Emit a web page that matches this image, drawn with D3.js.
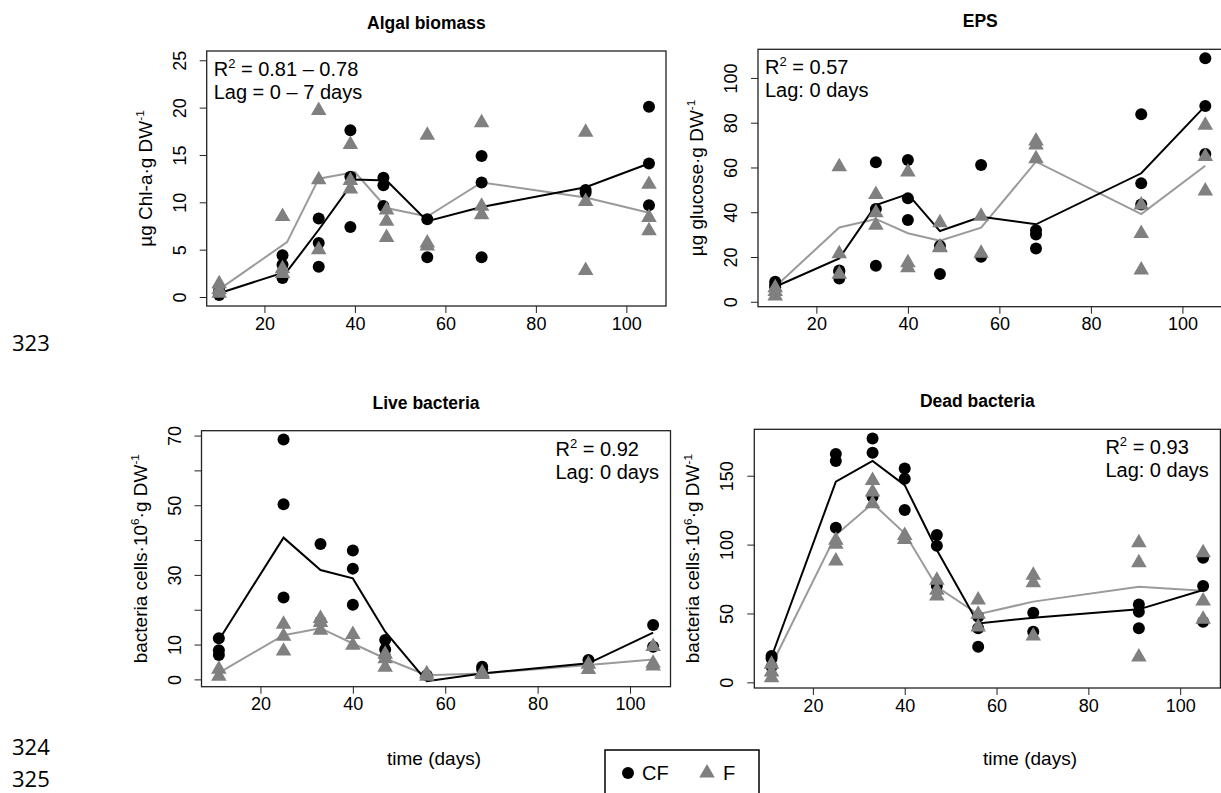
<!DOCTYPE html>
<html lang="en">
<head>
<meta charset="utf-8">
<title>Biofilm time series CF vs F</title>
<script src="https://d3js.org/d3.v7.min.js"></script>
<style>
  body { margin: 0; background: #fff; }
  svg text { font-family: "Liberation Sans", Arial, sans-serif; fill: #000; }
</style>
</head>
<body>
<div id="chart"></div>
<script>
// sampling days (x) for points and for the fitted lines
var days = [11, 25, 33, 40, 47, 56, 68, 91, 105];
var algalCFDays = [10, 24, 32, 39, 46.3, 56, 68, 91, 105];
var algalFDays = [10, 24, 32, 39, 47, 56, 68, 91, 105];
var algalLineDays = [10, 25, 32, 40, 47, 56, 68, 91, 105];

var xTicks = [20, 40, 60, 80, 100];

// Algal biomass, µg Chl-a per g DW (replicates per day)
var algalCF = [[0.2, 0.4, 0.7], [4.4, 3.4, 2.0], [8.3, 5.7, 3.2], [17.6, 12.7, 7.4], [12.6, 11.8, 9.6],
               [8.2, 4.2], [14.9, 12.1, 4.2], [11.3, 11.0], [20.1, 14.1, 9.7]];
var algalF = [[1.5, 0.9, 0.5], [8.6, 3.1, 2.6], [19.8, 12.5, 5.1], [16.2, 12.4, 11.5], [9.3, 8.1, 6.4],
              [17.2, 5.8, 5.5], [18.5, 9.7, 8.8], [17.5, 10.2, 2.9], [12.0, 8.5, 7.1]];
var algalLineCF = [0.4, 2.7, 7.1, 12.4, 12.3, 8.0, 9.5, 11.6, 14.1];
var algalLineF = [0.8, 5.8, 12.5, 13.2, 9.4, 8.5, 12.1, 10.5, 8.9];

// EPS, µg glucose per g DW
var epsCF = [[8.9, 7.5, 6.5], [14.0, 13.4, 10.4], [62.3, 41.4, 16.1], [63.3, 46.2, 36.5], [24.9, 12.4],
             [61.1, 20.1], [32.0, 30.1, 23.8], [83.8, 52.9, 43.5], [108.8, 87.5, 66.0]];
var epsF = [[6.7, 5.0, 3.0], [60.8, 21.9, 12.7], [48.4, 40.2, 34.6], [58.4, 17.9, 15.6], [35.8, 24.9, 24.6],
            [38.7, 22.1], [72.3, 70.5, 64.4], [43.7, 31.0, 14.6], [79.3, 65.3, 49.9]];
var epsLineCF = [6.7, 19.4, 43.2, 48.1, 31.6, 38.0, 34.6, 57.4, 87.5];
var epsLineF = [6.7, 33.2, 37.0, 30.6, 27.3, 33.1, 62.6, 39.2, 60.8];

// Live bacteria, 10^6 cells per g DW
var liveCF = [[11.8, 8.4, 7.0], [68.9, 50.3, 23.5], [38.9, 16.6], [37.0, 31.8, 21.4], [11.3, 8.6, 6.5],
              [1.2], [3.6, 2.9], [5.6], [15.6, 9.4]];
var liveF = [[3.2, 1.2], [16.1, 12.7, 8.4], [17.8, 16.6, 14.4], [13.2, 10.1], [7.5, 6.2, 3.8],
             [1.9, 1.2], [2.2, 1.7], [4.6, 3.1], [9.7, 4.9, 4.1]];
var liveLineCF = [11.3, 40.7, 31.4, 29.0, 13.7, -0.5, 1.7, 4.6, 13.4];
var liveLineF = [1.9, 12.7, 14.7, 10.3, 6.0, 1.2, 1.7, 4.1, 5.7];

// Dead bacteria, 10^6 cells per g DW
var deadCF = [[19.1, 17.4, 11.4], [165.7, 160.7, 112.3], [177.1, 166.7, 134.8], [155.3, 147.8, 125.1],
              [106.9, 99.2, 69.9], [47.7, 39.2, 25.9], [50.6, 36.8], [56.6, 51.3, 39.2], [90.5, 69.9, 44.0]];
var deadF = [[13.8, 8.2, 4.1], [103.8, 100.9, 88.8], [147.3, 138.9, 130.4], [107.4, 104.5],
             [74.8, 67.5, 63.4], [60.5, 50.1, 40.9], [78.4, 73.1, 34.4], [102.1, 87.6, 19.1], [94.8, 59.8, 46.5]];
var deadLineCF = [18.6, 145.7, 160.7, 143.2, 96.1, 42.8, 46.9, 53.0, 67.0];
var deadLineF = [12.6, 106.9, 129.9, 108.2, 69.4, 49.4, 58.6, 69.4, 66.5];

var black = "#000", gray = "#808080", grayLine = "#9a9a9a";

var svg = d3.select("#chart")
    .append("svg")
        .attr("width", 1221)
        .attr("height", 793);

svg.append("rect").attr("width", 1221).attr("height", 793).attr("fill", "#fff");

// layout of the four plot boxes [left, top, right, bottom]
var panels = [
    {title: "Algal biomass", box: [206.7, 51, 666, 306], yDomain: [-0.95, 25.98],
     yTicks: [0, 5, 10, 15, 20, 25], yLabels: [0, 5, 10, 15, 20, 25],
     ylab: [["µg Chl-a·g DW", 0], ["-1", 1]],
     note: ["0.81 – 0.78", "Lag = 0 – 7 days"], noteLeft: true,
     cfDays: algalCFDays, fDays: algalFDays, lineDays: algalLineDays,
     cf: algalCF, f: algalF, lineCF: algalLineCF, lineF: algalLineF},
    {title: "EPS", box: [758, 49.3, 1222.5, 306.7], yDomain: [-2.2, 112.8],
     yTicks: [0, 20, 40, 60, 80, 100], yLabels: [0, 20, 40, 60, 80, 100],
     ylab: [["µg glucose·g DW", 0], ["-1", 1]],
     note: ["0.57", "Lag: 0 days"], noteLeft: true,
     cfDays: days, fDays: days, lineDays: days,
     cf: epsCF, f: epsF, lineCF: epsLineCF, lineF: epsLineF},
    {title: "Live bacteria", box: [201.5, 430.7, 670.5, 686.7], yDomain: [-2.1, 71.4],
     yTicks: [0, 10, 20, 30, 40, 50, 60, 70], yLabels: [0, 10, 30, 50, 70],
     ylab: [["bacteria cells·10", 0], ["6", 1], ["·g DW", 0], ["-1", 1]],
     note: ["0.92", "Lag: 0 days"], noteLeft: false,
     cfDays: days, fDays: days, lineDays: days,
     cf: liveCF, f: liveF, lineCF: liveLineCF, lineF: liveLineF},
    {title: "Dead bacteria", box: [754.3, 429.3, 1220.4, 688], yDomain: [-4.1, 183.7],
     yTicks: [0, 50, 100, 150], yLabels: [0, 50, 100, 150],
     ylab: [["bacteria cells·10", 0], ["6", 1], ["·g DW", 0], ["-1", 1]],
     note: ["0.93", "Lag: 0 days"], noteLeft: false,
     cfDays: days, fDays: days, lineDays: days,
     cf: deadCF, f: deadF, lineCF: deadLineCF, lineF: deadLineF}
];

// write text pieces, raising the superscript ones
function addPieces(t, pieces, size) {
    pieces.forEach(function(p, i) {
        var ts = t.append("tspan").text(p[0]);
        if (p[1]) {
            ts.attr("font-size", size * 0.62).attr("dy", -size * 0.4);
        } else if (i > 0 && pieces[i - 1][1]) {
            ts.attr("dy", size * 0.4);
        }
    });
}

var triangle = d3.symbol().type(d3.symbolTriangle).size(105);

panels.forEach(function(p) {
    var left = p.box[0], top = p.box[1], right = p.box[2], bottom = p.box[3];

    var x = d3.scaleLinear().domain([7.24, 108.76]).range([left, right]);
    var y = d3.scaleLinear().domain(p.yDomain).range([bottom, top]);

    var g = svg.append("g");

    // title
    g.append("text")
        .attr("x", (left + right) / 2 - 10)
        .attr("y", top - 22)
        .attr("text-anchor", "middle")
        .attr("font-weight", "bold")
        .attr("font-size", 17.5)
        .text(p.title);

    // x axis
    var gx = g.append("g")
        .attr("transform", "translate(0," + bottom + ")")
        .call(d3.axisBottom(x).tickValues(xTicks).tickSize(7).tickPadding(4));
    gx.select(".domain").remove();
    gx.selectAll("text").attr("font-size", 18).attr("font-family", null);
    gx.selectAll("line").attr("stroke", "#222");

    // y axis, labels parallel to the axis
    var gy = g.append("g")
        .attr("transform", "translate(" + left + ",0)")
        .call(d3.axisLeft(y).tickValues(p.yTicks).tickSize(7)
            .tickFormat(function(d) { return p.yLabels.indexOf(d) >= 0 ? d : ""; }));
    gy.select(".domain").remove();
    gy.selectAll("line").attr("stroke", "#222");
    gy.selectAll("text")
        .attr("font-size", 18).attr("font-family", null)
        .attr("x", null).attr("dy", null)
        .attr("text-anchor", "middle")
        .attr("transform", "translate(-21,0) rotate(-90)");

    // y axis title
    var yt = g.append("text")
        .attr("text-anchor", "middle")
        .attr("font-size", 19)
        .attr("transform", "translate(" + (left - 55) + "," + ((top + bottom) / 2) + ") rotate(-90)");
    addPieces(yt, p.ylab, 19);

    // plot box
    g.append("rect")
        .attr("x", left).attr("y", top)
        .attr("width", right - left).attr("height", bottom - top)
        .attr("fill", "none").attr("stroke", "#222").attr("stroke-width", 1.3);

    // fitted lines
    var line = d3.line()
        .x(function(d) { return x(d[0]); })
        .y(function(d) { return y(d[1]); });
    g.append("path")
        .datum(d3.zip(p.lineDays, p.lineF))
        .attr("fill", "none").attr("stroke", grayLine).attr("stroke-width", 2)
        .attr("d", line);
    g.append("path")
        .datum(d3.zip(p.lineDays, p.lineCF))
        .attr("fill", "none").attr("stroke", black).attr("stroke-width", 2)
        .attr("d", line);

    // replicate points
    var cfPts = [], fPts = [];
    p.cfDays.forEach(function(d, i) {
        p.cf[i].forEach(function(v) { cfPts.push([d, v]); });
    });
    p.fDays.forEach(function(d, i) {
        p.f[i].forEach(function(v) { fPts.push([d, v]); });
    });
    g.append("g").selectAll("circle")
        .data(cfPts)
        .join("circle")
            .attr("cx", function(d) { return x(d[0]); })
            .attr("cy", function(d) { return y(d[1]); })
            .attr("r", 6)
            .attr("fill", black);
    g.append("g").selectAll("path")
        .data(fPts)
        .join("path")
            .attr("d", triangle)
            .attr("transform", function(d) { return "translate(" + x(d[0]) + "," + (y(d[1]) + 1) + ")"; })
            .attr("fill", gray);

    // R² and lag note
    var nx = p.noteLeft ? left + 7 : right - 115;
    var n1 = g.append("text").attr("x", nx).attr("y", top + 25).attr("font-size", 20);
    n1.append("tspan").text("R");
    n1.append("tspan").text("2").attr("font-size", 13).attr("dy", -8);
    n1.append("tspan").text(" = " + p.note[0]).attr("dy", 8);
    g.append("text").attr("x", nx).attr("y", top + 48).attr("font-size", 20).text(p.note[1]);
});

// shared x labels
svg.append("text").attr("x", 434).attr("y", 765).attr("text-anchor", "middle")
    .attr("font-size", 19).text("time (days)");
svg.append("text").attr("x", 1030).attr("y", 765).attr("text-anchor", "middle")
    .attr("font-size", 19).text("time (days)");

// legend
var lg = svg.append("g");
lg.append("rect").attr("x", 605).attr("y", 750).attr("width", 154).attr("height", 60)
    .attr("fill", "#fff").attr("stroke", "#000").attr("stroke-width", 1.5);
lg.append("circle").attr("cx", 628).attr("cy", 773).attr("r", 6).attr("fill", black);
lg.append("text").attr("x", 642).attr("y", 780).attr("font-size", 20).text("CF");
lg.append("path").attr("d", triangle).attr("transform", "translate(707,773)").attr("fill", gray);
lg.append("text").attr("x", 723).attr("y", 780).attr("font-size", 20).text("F");

// manuscript line numbers
var lineNos = [["323", 351], ["324", 755], ["325", 787]];
svg.selectAll(".lineno")
    .data(lineNos)
    .join("text")
        .attr("class", "lineno")
        .attr("x", 12).attr("y", function(d) { return d[1]; })
        .attr("font-size", 22)
        .style("font-family", "'Open Sans', 'Noto Sans', sans-serif")
        .text(function(d) { return d[0]; });
</script>
</body>
</html>
